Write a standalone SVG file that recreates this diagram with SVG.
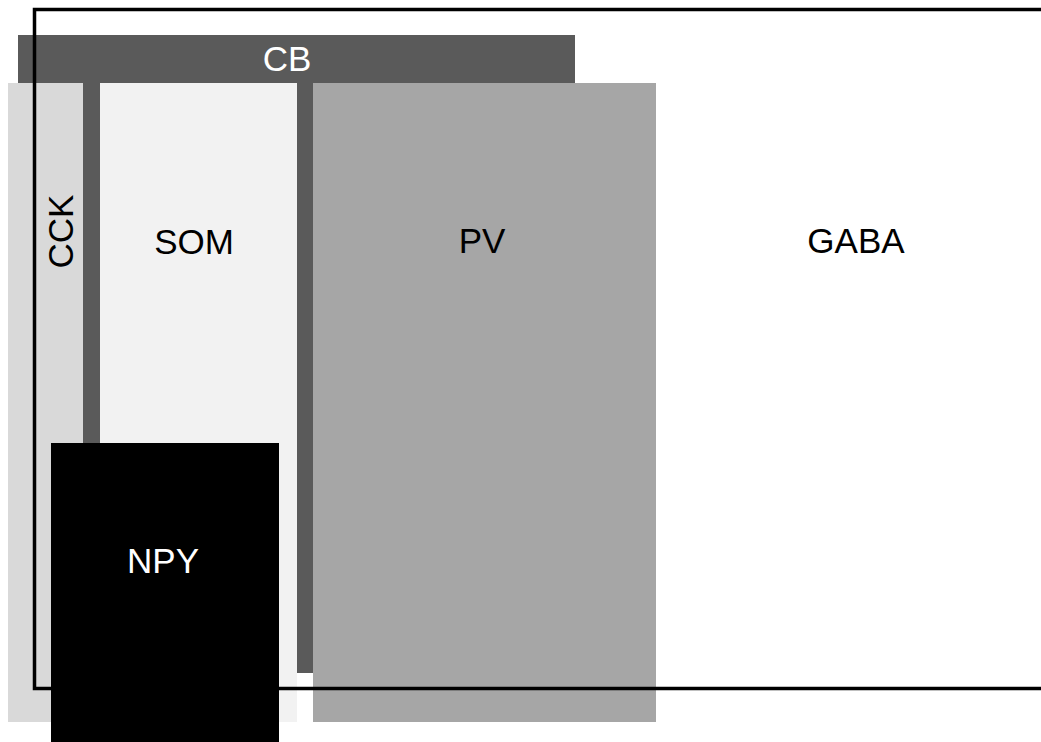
<svg xmlns="http://www.w3.org/2000/svg" width="1041" height="742" viewBox="0 0 1041 742">
<style>
  text { font-family: "Liberation Sans", Arial, sans-serif; font-size: 35px; text-anchor: middle; }
  .w { fill: #ffffff; }
  .k { fill: #000000; }
  .bar { fill: #5a5a5a; }
</style>
<rect x="0" y="0" width="1041" height="742" fill="#ffffff"/>
<g id="CCK">
  <rect x="8" y="83" width="75" height="639" fill="#d9d9d9"/>
  <text class="k" transform="translate(73 231.5) rotate(-90)">CCK</text>
</g>
<g id="SOM">
  <rect x="100" y="83" width="197" height="639" fill="#f2f2f2"/>
  <text class="k" x="194" y="254">SOM</text>
</g>
<g id="PV">
  <rect x="313" y="83" width="343" height="639" fill="#a6a6a6"/>
  <text class="k" x="482" y="253">PV</text>
</g>
<g id="CB">
  <rect x="18" y="35" width="557" height="48" class="bar"/>
  <rect x="83" y="83" width="17" height="360" class="bar"/>
  <rect x="297" y="83" width="16" height="590" class="bar"/>
  <rect x="297" y="673" width="16" height="49" fill="#ffffff"/>
  <text class="w" x="287" y="71">CB</text>
</g>
<g id="GABA">
  <rect x="34.5" y="9.5" width="1020" height="679" fill="none" stroke="#000000" stroke-width="3.5"/>
  <text class="k" x="856" y="253">GABA</text>
</g>
<g id="NPY">
  <rect x="51" y="443" width="228" height="299" fill="#000000"/>
  <text class="w" x="163" y="573">NPY</text>
</g>
<g id="connectors"></g>
</svg>
